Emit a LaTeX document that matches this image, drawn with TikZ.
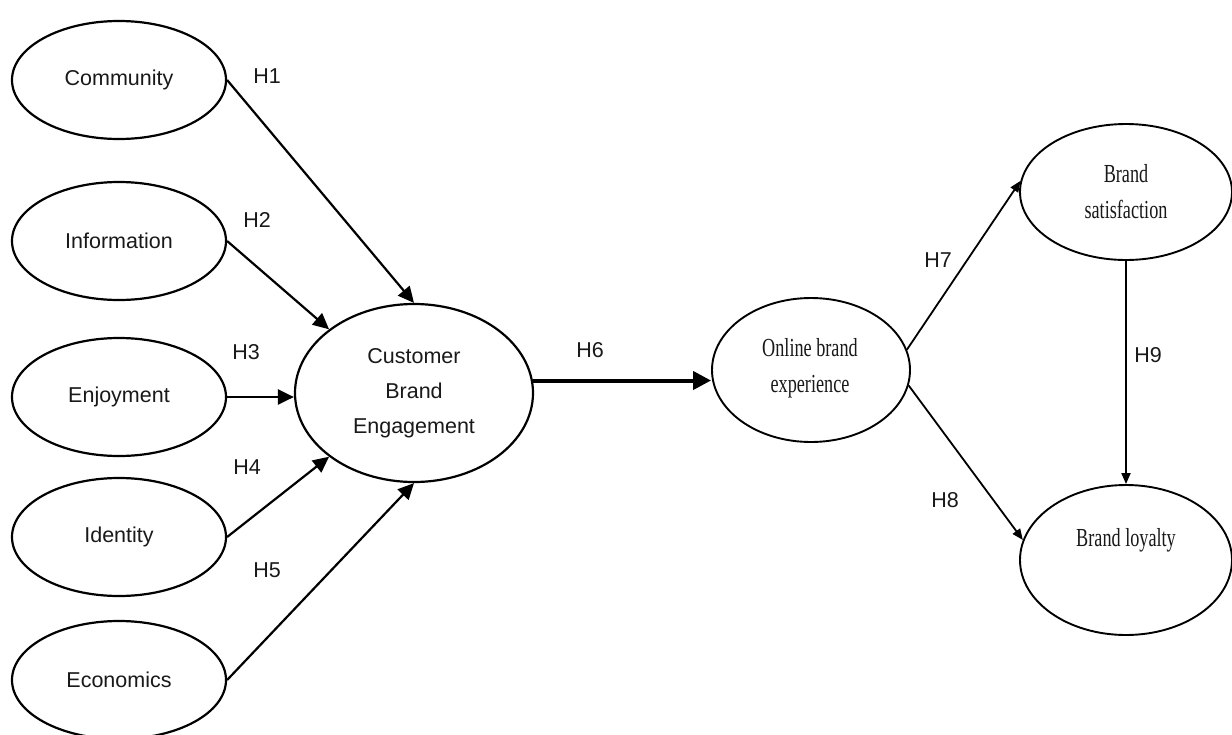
\documentclass[tikz,border=0pt]{standalone}
\usepackage{fontspec}
\usetikzlibrary{shapes.geometric,arrows.meta}
\newfontfamily\arialf{Liberation Sans}
\newfontfamily\timesf[FakeStretch=0.7]{Liberation Serif}
\begin{document}
\begin{tikzpicture}[x=1pt,y=-1pt,
  lbox/.style={draw=black,line width=2.2pt,ellipse,inner sep=0pt,minimum width=214pt,minimum height=118pt,
    font=\arialf\fontsize{21.5}{35}\selectfont,text=black!90},
  rbox/.style={draw=black,line width=1.9pt,ellipse,inner sep=0pt},
  rtext/.style={font=\timesf\fontsize{26}{36}\selectfont,align=center,text=black!90},
  hlab/.style={font=\arialf\fontsize{21.5}{25}\selectfont,text=black!90},
  bigarrow/.style={line width=2.2pt,-{Triangle[length=16pt,width=15pt]}},
  smallarrow/.style={line width=1.8pt,-{Triangle[length=11pt,width=9pt]}}]
\useasboundingbox (0,0) rectangle (1232,734);
\fill[white] (0,0) rectangle (1232,734);

\node[lbox] (com) at (119,80) {Community};
\node[lbox] (inf) at (119,241) {Information};
\node[lbox] (enj) at (119,397) {Enjoyment};
\node[lbox] (ide) at (119,537) {Identity};
\node[lbox] (eco) at (119,680) {Economics};

\node[lbox,minimum width=238pt,minimum height=178pt,align=center] (cbe) at (414,393) {Customer\\Brand\\Engagement};

\node[rbox,minimum width=198pt,minimum height=144pt] (obe) at (811,370) {};
\node[rtext] (obet) at (810,368) {Online brand\\experience};

\node[rbox,minimum width=212pt,minimum height=136pt] (bs) at (1126,192) {};
\node[rtext] (bst) at (1126,192) {Brand\\satisfaction};

\node[rbox,minimum width=212pt,minimum height=150pt] (bl) at (1126,560) {};
\node[rtext] (blt) at (1126,540) {Brand loyalty};

\draw[bigarrow] (com.east) -- (cbe.north);
\draw[bigarrow] (inf.east) -- (cbe.north west);
\draw[bigarrow] (enj.east) -- (enj.east -| cbe.west);
\draw[bigarrow] (ide.east) -- (cbe.south west);
\draw[bigarrow] (eco.east) -- (cbe.south);
\draw[line width=4pt,-{Triangle[length=18pt,width=18pt]}] (cbe.6) -- (cbe.6 -| obe.west);
\draw[smallarrow] (obe.12) -- (bs.174);
\draw[smallarrow] (obe.-9) -- (bl.169);
\draw[smallarrow] (bs.south) -- (bl.north);

\node[hlab] (h1) at (267,76) {H1};
\node[hlab] (h2) at (257,220) {H2};
\node[hlab] (h3) at (246,352) {H3};
\node[hlab] (h4) at (247,467) {H4};
\node[hlab] (h5) at (267,570) {H5};
\node[hlab] (h6) at (590,350) {H6};
\node[hlab] (h7) at (938,260) {H7};
\node[hlab] (h8) at (945,500) {H8};
\node[hlab] (h9) at (1148,355) {H9};
\end{tikzpicture}
\end{document}
